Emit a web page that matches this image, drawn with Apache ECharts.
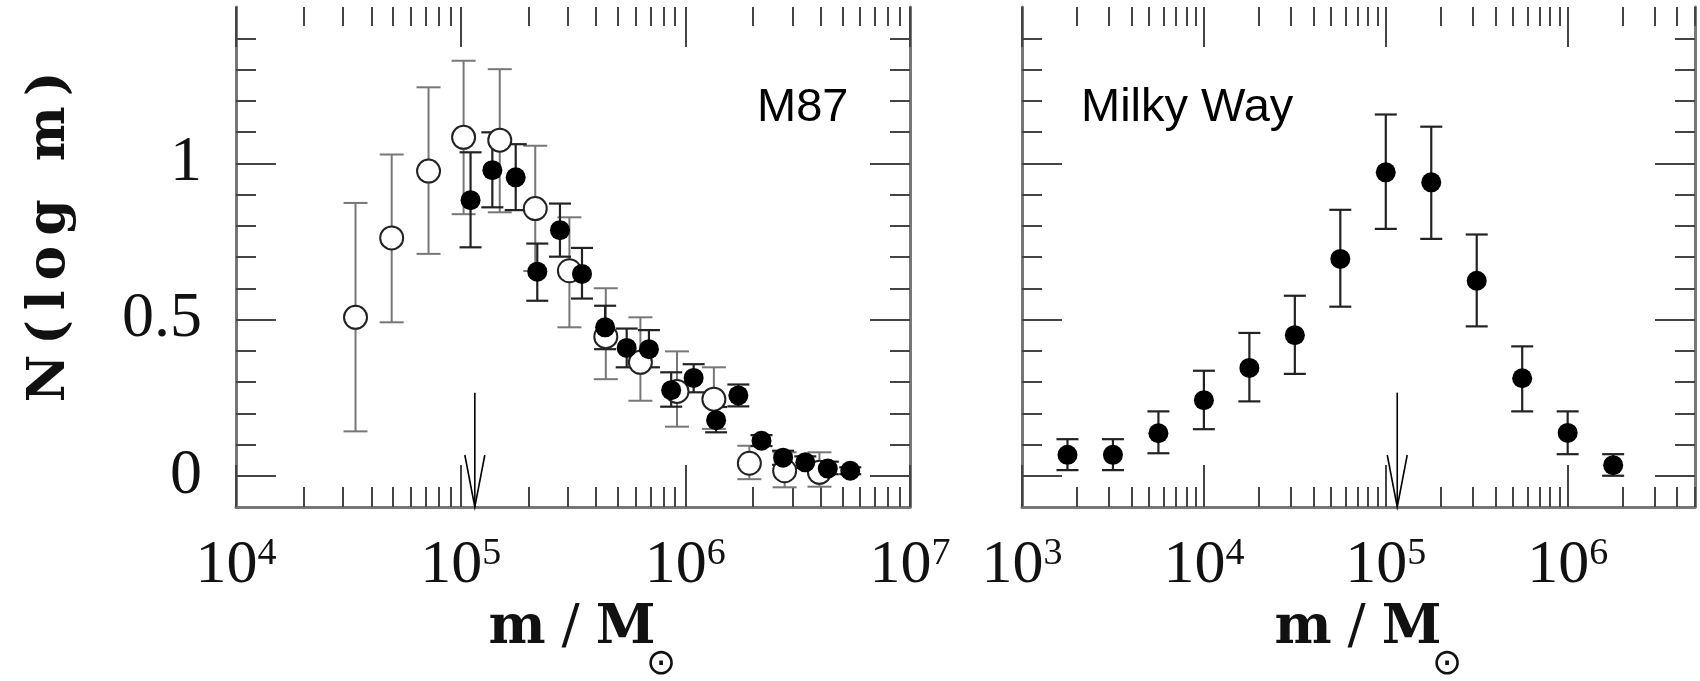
<!DOCTYPE html>
<html>
<head>
<meta charset="utf-8">
<script src="https://cdn.jsdelivr.net/npm/echarts@6/dist/echarts.min.js"></script>
<style>
html,body{margin:0;padding:0;background:#fff;}
#chart{width:1700px;height:681px;}
</style>
</head>
<body>
<div id="chart"></div>
<script>
// ---------- DATA (x values are log10(m / M_sun)) ----------
// M87, open circles
const m87OpenLogM = [4.532, 4.693, 4.857, 5.013, 5.174, 5.332, 5.484, 5.646, 5.800, 5.963, 6.127, 6.285, 6.442, 6.597];
const m87OpenN    = [0.507, 0.761, 0.975, 1.083, 1.074, 0.855, 0.656, 0.445, 0.363, 0.270, 0.245, 0.040, 0.016, 0.011];
const m87OpenLo   = [0.142, 0.491, 0.710, 0.837, 0.843, 0.655, 0.475, 0.309, 0.240, 0.157, 0.150, -0.011, -0.037, -0.035];
const m87OpenHi   = [0.873, 1.028, 1.243, 1.328, 1.301, 1.056, 0.827, 0.600, 0.507, 0.398, 0.347, 0.096, 0.075, 0.075];
// M87, filled circles
const m87FillLogM = [5.044, 5.141, 5.245, 5.341, 5.442, 5.540, 5.643, 5.739, 5.838, 5.937, 6.037, 6.137, 6.236, 6.339, 6.435, 6.534, 6.634, 6.734];
const m87FillN    = [0.882, 0.978, 0.955, 0.653, 0.786, 0.646, 0.475, 0.409, 0.405, 0.274, 0.313, 0.178, 0.257, 0.112, 0.058, 0.043, 0.023, 0.016];
const m87FillLo   = [0.731, 0.859, 0.850, 0.560, 0.701, 0.567, 0.405, 0.347, 0.347, 0.221, 0.267, 0.139, 0.222, 0.095, 0.035, 0.025, 0.005, 0.005];
const m87FillHi   = [1.035, 1.099, 1.061, 0.743, 0.871, 0.729, 0.544, 0.471, 0.466, 0.331, 0.357, 0.220, 0.292, 0.130, 0.080, 0.062, 0.045, 0.027];
// Milky Way, filled circles
const mwLogM = [3.25, 3.50, 3.75, 4.00, 4.25, 4.50, 4.75, 5.00, 5.25, 5.50, 5.75, 6.00, 6.25];
const mwN    = [0.067, 0.067, 0.136, 0.242, 0.345, 0.450, 0.694, 0.971, 0.939, 0.624, 0.312, 0.137, 0.034];
const mwLo   = [0.018, 0.018, 0.072, 0.149, 0.238, 0.326, 0.541, 0.790, 0.758, 0.478, 0.206, 0.069, 0.000];
const mwHi   = [0.117, 0.117, 0.206, 0.336, 0.457, 0.576, 0.851, 1.156, 1.117, 0.772, 0.414, 0.206, 0.069];
// arrows (turnover mass marker)
const arrowLogM = [5.063];
const arrowTopN = [0.266];
const arrowTipN = [-0.1];
// axes
const leftRange = [4, 7];
const rightRange = [3, 6.7];
const yRange = [-0.1, 1.5];
const xTickExpLeft = [4, 5, 6, 7];
const xTickExpRight = [3, 4, 5, 6];
const yTickValues = [0, 0.5, 1];
const yTickLabels = ['0', '0.5', '1'];
const minorMultipliers = [2, 3, 4, 5, 6, 7, 8, 9];
const panelLabels = ['M87', 'Milky Way'];

// ---------- helpers ----------
function zip(a, b, c, d) { return a.map((v, i) => [v, b[i], c[i], d[i]]); }
function minorLogTicks(lo, hi) {
  const out = [];
  for (let n = Math.floor(lo); n < hi; n++) {
    for (const k of minorMultipliers) {
      const v = n + Math.log10(k);
      if (v > lo + 1e-9 && v < hi + 1e-9) out.push(v);
    }
  }
  return out;
}
const yMinor = [];
for (let i = 1; i <= 14; i++) if (i % 5 !== 0) yMinor.push(i / 10);

const FRAME = '#777';
const TICK = '#444';
const serif = 'Liberation Serif';

function xAxesFor(gi, range, exps) {
  const base = {type: 'value', gridIndex: gi, min: range[0], max: range[1],
    splitLine: {show: false}, axisLine: {show: false, onZero: false}, axisLabel: {show: false}, axisTick: {show: false}};
  return [
    Object.assign({}, base, {
      position: 'bottom',
      axisLine: {show: true, onZero: false, lineStyle: {color: FRAME, width: 3}},
      axisTick: {show: true, inside: true, length: 42, customValues: exps, lineStyle: {color: TICK, width: 2}},
      axisLabel: {show: true, customValues: exps, margin: 28,
        formatter: v => '{b|10}{s|' + Math.round(v) + '}',
        rich: {
          b: {fontSize: 62, fontFamily: serif, color: '#111', lineHeight: 62},
          s: {fontSize: 38, fontFamily: serif, color: '#111', lineHeight: 38, verticalAlign: 'top'}
        }}
    }),
    Object.assign({}, base, {
      position: 'bottom',
      axisTick: {show: true, inside: true, length: 20, customValues: minorLogTicks(range[0], range[1]), lineStyle: {color: TICK, width: 2}}
    }),
    Object.assign({}, base, {
      position: 'top',
      axisTick: {show: true, inside: true, length: 40, customValues: exps, lineStyle: {color: TICK, width: 2}}
    }),
    Object.assign({}, base, {
      position: 'top',
      axisTick: {show: true, inside: true, length: 19, customValues: minorLogTicks(range[0], range[1]), lineStyle: {color: TICK, width: 2}}
    })
  ];
}
function yAxesFor(gi, withLabels) {
  const base = {type: 'value', gridIndex: gi, min: yRange[0], max: yRange[1],
    splitLine: {show: false}, axisLine: {show: false, onZero: false}, axisLabel: {show: false}, axisTick: {show: false}};
  return [
    Object.assign({}, base, {
      position: 'left',
      axisLine: {show: true, onZero: false, lineStyle: {color: FRAME, width: 3}},
      axisTick: {show: true, inside: true, length: 40, customValues: yTickValues, lineStyle: {color: TICK, width: 2}},
      axisLabel: {show: withLabels, customValues: yTickValues, margin: 34,
        formatter: v => yTickLabels[yTickValues.indexOf(v)] ?? String(v),
        fontSize: 64, fontFamily: serif, color: '#111'}
    }),
    Object.assign({}, base, {
      position: 'left',
      axisTick: {show: true, inside: true, length: 20, customValues: yMinor, lineStyle: {color: TICK, width: 2}}
    }),
    Object.assign({}, base, {
      position: 'right',
      axisLine: {show: true, onZero: false, lineStyle: {color: FRAME, width: 3}},
      axisTick: {show: true, inside: true, length: 40, customValues: yTickValues, lineStyle: {color: TICK, width: 2}}
    }),
    Object.assign({}, base, {
      position: 'right',
      axisTick: {show: true, inside: true, length: 20, customValues: yMinor, lineStyle: {color: TICK, width: 2}}
    })
  ];
}

function errorBarRender(color, width, cap) {
  return function (params, api) {
    const x = api.value(0);
    const top = api.coord([x, api.value(3)]);
    const bot = api.coord([x, api.value(2)]);
    const st = {stroke: color, lineWidth: width};
    return {type: 'group', children: [
      {type: 'line', shape: {x1: top[0], y1: top[1], x2: bot[0], y2: bot[1]}, style: st},
      {type: 'line', shape: {x1: top[0] - cap, y1: top[1], x2: top[0] + cap, y2: top[1]}, style: st},
      {type: 'line', shape: {x1: bot[0] - cap, y1: bot[1], x2: bot[0] + cap, y2: bot[1]}, style: st}
    ]};
  };
}
function arrowRender(params, api) {
  const x = api.value(0);
  const top = api.coord([x, api.value(1)]);
  const tip = api.coord([x, api.value(2)]);
  const st = {stroke: '#000', lineWidth: 1.6};
  return {type: 'group', children: [
    {type: 'line', shape: {x1: top[0], y1: top[1], x2: tip[0], y2: tip[1]}, style: st},
    {type: 'polyline', shape: {points: [[tip[0] - 10, tip[1] - 52], [tip[0], tip[1]], [tip[0] + 10, tip[1] - 52]]}, style: Object.assign({fill: 'none'}, st)}
  ]};
}

function errSeries(xi, yi, data, color, width, cap) {
  return {type: 'custom', coordinateSystem: 'cartesian2d', xAxisIndex: xi, yAxisIndex: yi,
    renderItem: errorBarRender(color, width, cap), data: data, encode: {x: 0, y: 1}, silent: true, clip: false};
}
function pointSeries(xi, yi, data, open) {
  return {type: 'scatter', xAxisIndex: xi, yAxisIndex: yi, symbol: 'circle',
    symbolSize: open ? 23 : 20,
    itemStyle: open ? {color: '#fff', borderColor: '#222', borderWidth: 2, opacity: 1} : {color: '#000', opacity: 1},
    data: data.map(d => [d[0], d[1]]), silent: true};
}

const m87Open = zip(m87OpenLogM, m87OpenN, m87OpenLo, m87OpenHi);
const m87Fill = zip(m87FillLogM, m87FillN, m87FillLo, m87FillHi);
const mw = zip(mwLogM, mwN, mwLo, mwHi);
const arrows = arrowLogM.map((v, i) => [v, arrowTopN[i], arrowTipN[i]]);

function yTitleRich() {
  const chars = 'N(log m)'.split('');
  return chars.map(c => '{n|' + c + '}').join('');
}
function xTitle(cx) {
  return [
    {type: 'text', x: cx, y: 629, style: {
      text: '{a|m}{b|/}{a|M}', align: 'center', verticalAlign: 'middle', textAlign: 'center', textVerticalAlign: 'middle',
      rich: {
        a: {fontSize: 54, fontFamily: 'DejaVu Serif', fontWeight: 'bold', fill: '#111', padding: [0, 4]},
        b: {fontSize: 54, fontFamily: 'DejaVu Serif', fill: '#111', padding: [0, 12]}
      }}},
    {type: 'text', x: cx + 89, y: 665, style: {
      text: '⊙', fontSize: 36, fontFamily: 'DejaVu Sans', fill: '#111',
      align: 'center', verticalAlign: 'middle', textAlign: 'center', textVerticalAlign: 'middle'}}
  ];
}

const option = {
  animation: false,
  backgroundColor: '#fff',
  grid: [
    {left: 236, top: 7, width: 674, height: 500},
    {left: 1022, top: 7, width: 673, height: 500}
  ],
  xAxis: xAxesFor(0, leftRange, xTickExpLeft).concat(xAxesFor(1, rightRange, xTickExpRight)),
  yAxis: yAxesFor(0, true).concat(yAxesFor(1, false)),
  series: [
    errSeries(0, 0, m87Open, '#777', 2, 12),
    pointSeries(0, 0, m87Open, true),
    errSeries(0, 0, m87Fill, '#222', 2.2, 11),
    pointSeries(0, 0, m87Fill, false),
    {type: 'custom', coordinateSystem: 'cartesian2d', xAxisIndex: 0, yAxisIndex: 0, renderItem: arrowRender, data: arrows, encode: {x: 0, y: 1}, silent: true, clip: false},
    errSeries(4, 4, mw, '#222', 2.2, 11),
    pointSeries(4, 4, mw, false),
    {type: 'custom', coordinateSystem: 'cartesian2d', xAxisIndex: 4, yAxisIndex: 4, renderItem: arrowRender, data: arrows, encode: {x: 0, y: 1}, silent: true, clip: false}
  ],
  graphic: [
    {type: 'text', x: 50, y: 237, rotation: Math.PI / 2, style: {
      text: yTitleRich(), align: 'center', verticalAlign: 'middle', textAlign: 'center', textVerticalAlign: 'middle',
      rich: {n: {fontSize: 52, fontFamily: 'DejaVu Serif', fontWeight: 'bold', fill: '#111', padding: [0, 5]}}}},
    {type: 'text', x: 757, y: 108, style: {text: panelLabels[0], fontSize: 47, fontFamily: 'Liberation Sans', fill: '#000',
      align: 'left', verticalAlign: 'middle', textAlign: 'left', textVerticalAlign: 'middle'}},
    {type: 'text', x: 1081, y: 108, style: {text: panelLabels[1], fontSize: 47, fontFamily: 'Liberation Sans', fill: '#000',
      align: 'left', verticalAlign: 'middle', textAlign: 'left', textVerticalAlign: 'middle'}}
  ].concat(xTitle(572), xTitle(1358))
};

const chart = echarts.init(document.getElementById('chart'), null, {renderer: 'canvas'});
chart.setOption(option);
</script>
</body>
</html>
